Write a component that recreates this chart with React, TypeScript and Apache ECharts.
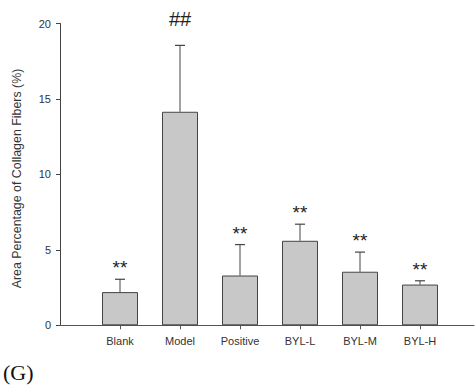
import React, { useEffect, useRef } from "react";
import * as echarts from "echarts";

const categories = ["Blank", "Model", "Positive", "BYL-L", "BYL-M", "BYL-H"];
const means = [2.2, 14.15, 3.3, 5.6, 3.55, 2.7];
const errorTops = [3.05, 18.55, 5.35, 6.7, 4.85, 2.95];
const marks = ["**", "##", "**", "**", "**", "**"];
const yTicks = [0, 5, 10, 15, 20];
const yTitle = "Area Percentage of Collagen Fibers (%)";

export default function App() {
  const ref = useRef<HTMLDivElement>(null);
  useEffect(() => {
    document.body.style.margin = "0";
    const chart = echarts.init(ref.current!, null, { renderer: "svg" });
    const positions = categories.map((_, i) => i + 1);
    chart.setOption({
      animation: false,
      backgroundColor: "#ffffff",
      grid: { left: 60, right: 2, top: 23.5, bottom: 65.7 },
      xAxis: {
        type: "value",
        min: 0,
        max: 6.9,
        interval: 1,
        splitLine: { show: false },
        axisLine: { show: true, lineStyle: { color: "#555", width: 1 } },
        axisTick: {
          show: true,
          customValues: positions,
          length: 4,
          inside: false,
          lineStyle: { color: "#555" },
        },
        axisLabel: {
          customValues: positions,
          formatter: (v: number) => categories[Math.round(v) - 1] ?? "",
          color: "#333",
          fontFamily: "Liberation Sans, Arial, sans-serif",
          fontSize: 11,
          margin: 10,
        },
      },
      yAxis: {
        type: "value",
        min: yTicks[0],
        max: yTicks[yTicks.length - 1],
        interval: 5,
        splitLine: { show: false },
        axisLine: { show: true, lineStyle: { color: "#444" } },
        axisTick: { show: true, length: 4, lineStyle: { color: "#444" } },
        axisLabel: {
          color: "#333",
          fontFamily: "Liberation Sans, Arial, sans-serif",
          fontSize: 11,
          margin: 9,
        },
      },
      series: [
        {
          type: "bar",
          data: means.map((m, i) => [positions[i], m]),
          barWidth: 36,
          itemStyle: { color: "#c8c8c8", borderColor: "#444", borderWidth: 1 },
        },
        {
          type: "custom",
          data: means.map((m, i) => [positions[i], m, errorTops[i]]),
          z: 3,
          renderItem: (params: any, api: any) => {
            const x = api.value(0);
            const lo = api.coord([x, api.value(1)]);
            const hi = api.coord([x, api.value(2)]);
            const mark = marks[params.dataIndex];
            const isHash = mark === "##";
            return {
              type: "group",
              children: [
                {
                  type: "line",
                  shape: { x1: lo[0], y1: lo[1], x2: hi[0], y2: hi[1] },
                  style: { stroke: "#444", lineWidth: 1 },
                },
                {
                  type: "line",
                  shape: { x1: hi[0] - 5, y1: hi[1], x2: hi[0] + 5, y2: hi[1] },
                  style: { stroke: "#444", lineWidth: 1.2 },
                },
                {
                  type: "text",
                  x: hi[0],
                  y: isHash ? hi[1] - 16 : hi[1] - 2,
                  style: {
                    text: mark,
                    fill: "#222",
                    fontFamily: "Liberation Sans, Arial, sans-serif",
                    fontSize: isHash ? 20 : 19,
                    align: "center",
                    verticalAlign: "bottom",
                  },
                },
              ],
            };
          },
        },
      ],
      graphic: [
        {
          type: "text",
          x: 17,
          y: 178.5,
          rotation: Math.PI / 2,
          style: {
            text: yTitle,
            fill: "#333",
            fontFamily: "Liberation Sans, Arial, sans-serif",
            fontSize: 12.4,
            align: "center",
            verticalAlign: "middle",
          },
        },
        {
          type: "text",
          left: 3,
          top: 361,
          style: {
            text: "(G)",
            fill: "#111",
            fontFamily: "Liberation Serif, Times New Roman, serif",
            fontSize: 22,
          },
        },
      ],
    });
    return () => chart.dispose();
  }, []);
  return <div ref={ref} style={{ width: 476, height: 391 }} />;
}
